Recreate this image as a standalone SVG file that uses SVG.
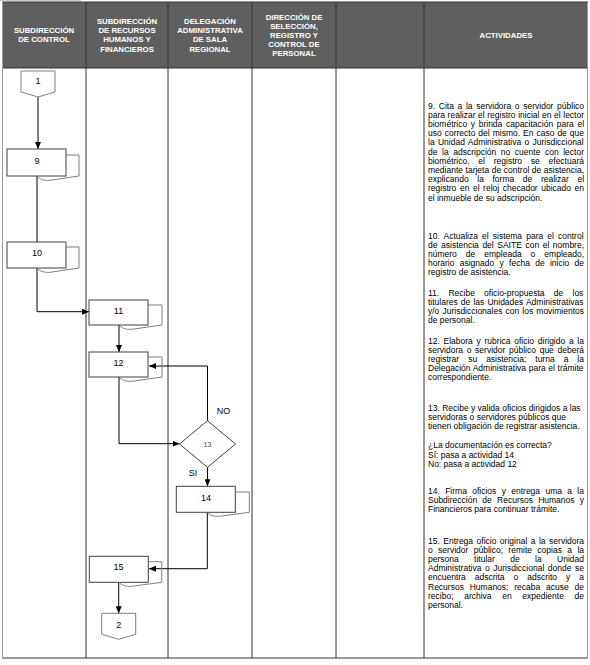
<svg xmlns="http://www.w3.org/2000/svg" width="590" height="665" viewBox="0 0 590 665">
<style>
.hd{font-family:"Liberation Sans",Arial,sans-serif;font-size:7.8px;font-weight:bold;fill:#fff;text-anchor:middle}
.tx{font-family:"Liberation Sans",Arial,sans-serif;font-size:8.5px;fill:#000}
.lb{font-family:"Liberation Sans",Arial,sans-serif;font-size:9px;fill:#000;text-anchor:middle}
.box{fill:#fff;stroke:#404040;stroke-width:1}
.back{fill:none;stroke:#7f7f7f;stroke-width:1}
.con{fill:#fff;stroke:#7f7f7f;stroke-width:1}
.ln{fill:none;stroke:#000;stroke-width:1;marker-end:url(#ah)}
.grid{stroke:#333;stroke-width:1}
</style>
<defs>
<marker id="ah" viewBox="0 0 7 6" refX="7" refY="3" markerWidth="7" markerHeight="6" markerUnits="userSpaceOnUse" orient="auto"><path d="M0,0 L7,3 L0,6 z" fill="#000"/></marker>
</defs>
<rect width="590" height="665" fill="#fff"/>
<line x1="0" y1="0.5" x2="81" y2="0.5" stroke="#c8c8c8" stroke-width="1"/>
<g id="table">
<rect x="2" y="2" width="586" height="66" fill="#5f5f5f"/>
<line class="grid" x1="2" y1="2" x2="588" y2="2"/>
<line class="grid" x1="2" y1="68" x2="588" y2="68"/>
<line class="grid" x1="2" y1="658" x2="588" y2="658"/>
<line x1="2.5" y1="2" x2="2.5" y2="658" stroke="#9a9a9a"/>
<line x1="587.5" y1="2" x2="587.5" y2="658" stroke="#9a9a9a"/>
<line class="grid" x1="86" y1="2" x2="86" y2="658"/>
<line class="grid" x1="168" y1="2" x2="168" y2="658"/>
<line class="grid" x1="252" y1="2" x2="252" y2="658"/>
<line class="grid" x1="336" y1="2" x2="336" y2="658"/>
<line class="grid" x1="424" y1="2" x2="424" y2="658"/>
</g>
<g id="headers">
<text class="hd" x="44" y="33">SUBDIRECCIÓN</text>
<text class="hd" x="44" y="42.3">DE CONTROL</text>
<text class="hd" x="127" y="24">SUBDIRECCIÓN</text>
<text class="hd" x="127" y="33.2">DE RECURSOS</text>
<text class="hd" x="127" y="42.4">HUMANOS Y</text>
<text class="hd" x="127" y="51.6">FINANCIEROS</text>
<text class="hd" x="210" y="24">DELEGACIÓN</text>
<text class="hd" x="210" y="33.2">ADMINISTRATIVA</text>
<text class="hd" x="210" y="42.4">DE SALA</text>
<text class="hd" x="210" y="51.6">REGIONAL</text>
<text class="hd" x="294" y="19.6">DIRECCIÓN DE</text>
<text class="hd" x="294" y="28.8">SELECCIÓN,</text>
<text class="hd" x="294" y="38">REGISTRO Y</text>
<text class="hd" x="294" y="47.2">CONTROL DE</text>
<text class="hd" x="294" y="56.4">PERSONAL</text>
<text class="hd" x="506" y="37.8">ACTIVIDADES</text>
</g>
<g id="connectors">
<path class="ln" d="M38 97 V149"/>
<path class="ln" d="M37 176 V249"/>
<path class="ln" d="M37 268 V311.7 H89"/>
<path class="ln" d="M119 325 V352"/>
<path class="ln" d="M119 377 V443.7 H179.5"/>
<path class="ln" d="M207.5 420.7 V366 H149"/>
<path class="ln" d="M207.5 467.3 V486.3"/>
<path class="ln" d="M207.3 512.3 V568.7 H149"/>
<path class="ln" d="M118.7 582.3 V613.3"/>
</g>
<g id="n1">
<polygon class="con" points="21,71 55,71 55,92 38,97 21,92"/>
<text class="lb" x="38" y="84">1</text>
</g>
<g id="n9">
<path class="back" d="M37 176 C40 180 46 181 52 180 L79 176 V155 H66"/>
<rect class="box" x="7" y="149" width="59" height="27"/>
<text class="lb" x="37" y="164">9</text>
</g>
<g id="n10">
<path class="back" d="M37 268 C40 272 46 273 52 272 L79 268 V247 H66"/>
<rect class="box" x="7" y="242" width="59" height="26"/>
<text class="lb" x="37" y="256">10</text>
</g>
<g id="n11">
<path class="back" d="M119 325 C122 329 128 330 134 329 L162 325 V305 H148"/>
<rect class="box" x="89" y="300" width="59" height="25"/>
<text class="lb" x="118.5" y="314">11</text>
</g>
<g id="n12">
<path class="back" d="M119 377 C122 381 128 382 134 381 L162 377 V357 H148"/>
<rect class="box" x="89" y="352" width="59" height="25"/>
<text class="lb" x="118.5" y="366">12</text>
</g>
<g id="n13">
<polygon class="box" points="207.5,420.7 235.5,444 207.5,467.3 179.5,444"/>
<text class="lb" x="207.5" y="446.5" style="font-size:7px;fill:#444">13</text>
<text class="lb" x="223.5" y="413.5">NO</text>
<text class="lb" x="193" y="476">SI</text>
</g>
<g id="n14">
<path class="back" d="M207 512.3 C210 516 216 517 222 516 L249.3 512.3 V492 H235.3"/>
<rect class="box" x="176.3" y="486.3" width="59" height="26"/>
<text class="lb" x="206" y="501">14</text>
</g>
<g id="n15">
<path class="back" d="M119 582.3 C122 586 128 587 134 586 L161.7 582.3 V561.7 H148.3"/>
<rect class="box" x="89.3" y="556.3" width="59" height="26"/>
<text class="lb" x="118.5" y="570">15</text>
</g>
<g id="n2">
<polygon class="con" points="101.7,613.3 135.7,613.3 135.7,634.3 118.7,639.3 101.7,634.3"/>
<text class="lb" x="118.7" y="628">2</text>
</g>
<g id="activities">
<text class="tx" x="428" y="108.5" style="word-spacing:1.3px">9. Cita a la servidora o servidor público</text>
<text class="tx" x="428" y="117.7" style="word-spacing:0.22px">para realizar el registro inicial en el lector</text>
<text class="tx" x="428" y="126.9" style="word-spacing:1.25px">biométrico y brinda capacitación para el</text>
<text class="tx" x="428" y="136.1" style="word-spacing:0.62px">uso correcto del mismo. En caso de que</text>
<text class="tx" x="428" y="145.3" style="word-spacing:0.97px">la Unidad Administrativa o Jurisdiccional</text>
<text class="tx" x="428" y="154.5" style="word-spacing:2.22px">de la adscripción no cuente con lector</text>
<text class="tx" x="428" y="163.7" style="word-spacing:6.4px">biométrico, el registro se efectuará</text>
<text class="tx" x="428" y="172.9" style="word-spacing:0.21px">mediante tarjeta de control de asistencia,</text>
<text class="tx" x="428" y="182.1" style="word-spacing:6.26px">explicando la forma de realizar el</text>
<text class="tx" x="428" y="191.3" style="word-spacing:1.2px">registro en el reloj checador ubicado en</text>
<text class="tx" x="428" y="200.5">el inmueble de su adscripción.</text>

<text class="tx" x="428" y="239" style="word-spacing:1.75px">10. Actualiza el sistema para el control</text>
<text class="tx" x="428" y="248.1" style="word-spacing:1.2px">de asistencia del SAITE con el nombre,</text>
<text class="tx" x="428" y="257.2" style="word-spacing:6.64px">número de empleada o empleado,</text>
<text class="tx" x="428" y="266.3" style="word-spacing:2.93px">horario asignado y fecha de inicio de</text>
<text class="tx" x="428" y="275.4">registro de asistencia.</text>

<text class="tx" x="428" y="296" style="word-spacing:6.87px">11. Recibe oficio-propuesta de los</text>
<text class="tx" x="428" y="305.1" style="word-spacing:0.74px">titulares de las Unidades Administrativas</text>
<text class="tx" x="428" y="314.2" style="word-spacing:0.74px">y/o Jurisdiccionales con los movimientos</text>
<text class="tx" x="428" y="323.3">de personal.</text>

<text class="tx" x="428" y="344" style="word-spacing:1.36px">12. Elabora y rubrica oficio dirigido a la</text>
<text class="tx" x="428" y="353.1" style="word-spacing:1.34px">servidora o servidor público que deberá</text>
<text class="tx" x="428" y="362.2" style="word-spacing:6.63px">registrar su asistencia; turna a la</text>
<text class="tx" x="428" y="371.3" style="word-spacing:0.27px">Delegación Administrativa para el trámite</text>
<text class="tx" x="428" y="380.4">correspondiente.</text>

<text class="tx" x="428" y="411">13. Recibe y valida oficios dirigidos a las</text>
<text class="tx" x="428" y="420.1">servidoras o servidores públicos que</text>
<text class="tx" x="428" y="429.2">tienen obligación de registrar asistencia.</text>
<text class="tx" x="428" y="448.4">¿La documentación es correcta?</text>
<text class="tx" x="428" y="457.5">Sí: pasa a actividad 14</text>
<text class="tx" x="428" y="466.6">No: pasa a actividad 12</text>

<text class="tx" x="428" y="494" style="word-spacing:2.98px">14. Firma oficios y entrega uma a la</text>
<text class="tx" x="428" y="503.1" style="word-spacing:2.86px">Subdirección de Recursos Humanos y</text>
<text class="tx" x="428" y="512.2">Financieros para continuar trámite.</text>

<text class="tx" x="428" y="544" style="word-spacing:1.12px">15. Entrega oficio original a la servidora</text>
<text class="tx" x="428" y="553.1" style="word-spacing:3.01px">o servidor público; remite copias a la</text>
<text class="tx" x="428" y="562.2" style="word-spacing:13.02px">persona titular de la Unidad</text>
<text class="tx" x="428" y="571.3" style="word-spacing:1.21px">Administrativa o Jurisdiccional donde se</text>
<text class="tx" x="428" y="580.4" style="word-spacing:6.63px">encuentra adscrita o adscrito y a</text>
<text class="tx" x="428" y="589.5" style="word-spacing:3.45px">Recursos Humanos; recaba acuse de</text>
<text class="tx" x="428" y="598.6" style="word-spacing:8.29px">recibo; archiva en expediente de</text>
<text class="tx" x="428" y="607.7">personal.</text>
</g>
</svg>
